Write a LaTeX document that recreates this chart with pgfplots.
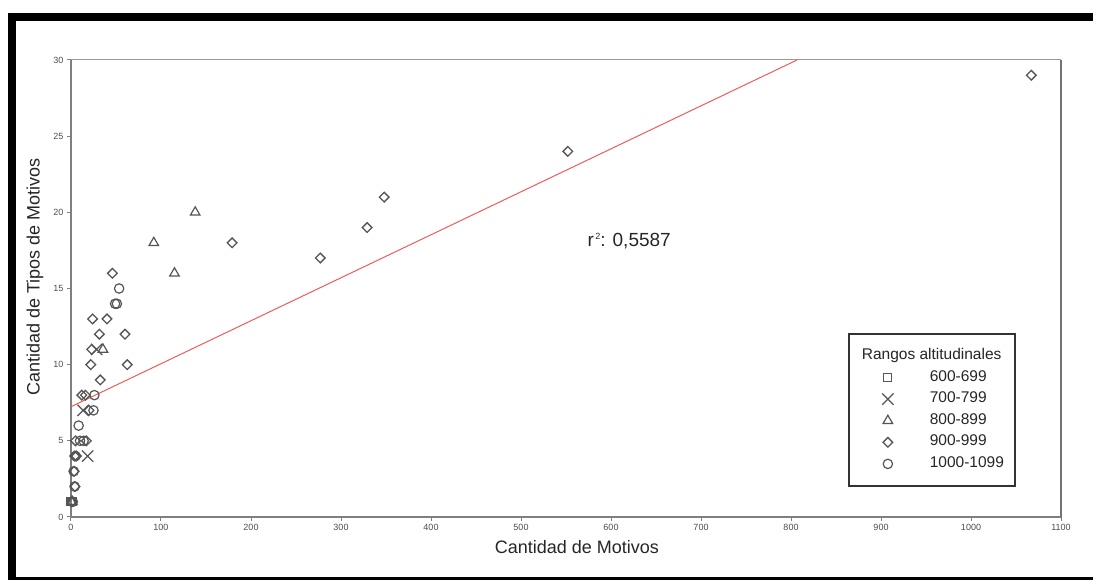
\documentclass[border=0pt]{standalone}
\usepackage{fontspec}
\setmainfont{Liberation Sans}
\usepackage{pgfplots}
\pgfplotsset{compat=1.18}
\definecolor{mk}{HTML}{555555}
\definecolor{fitred}{HTML}{F05A5A}
\definecolor{axgray}{HTML}{7F7F7F}

\begin{document}
\begin{tikzpicture}
\path[use as bounding box] (-71pt,-63pt) rectangle (1022pt,517pt);
\begin{axis}[
  at={(0pt,0pt)}, anchor=south west,
  scale only axis, width=990pt, height=457pt,
  xmin=0, xmax=1100, ymin=0, ymax=30,
  xtick distance=100, ytick distance=5,
  axis lines=left, axis line style={-, draw=axgray, line width=1.2pt},
  tick align=outside, major tick length=4pt,
  tick style={draw=axgray, line width=1pt},
  tick label style={font=\fontsize{9}{10}\selectfont, text=black!70},
  /pgf/number format/assume math mode=true,
  /pgf/number format/set thousands separator={},
  xlabel={Cantidad de Motivos}, ylabel={Cantidad de Tipos de Motivos},
  every axis x label/.style={at={(axis description cs:0.511,-0.0656)}, anchor=center,
    font=\fontsize{18}{20}\selectfont, text=black!85},
  every axis y label/.style={at={(axis description cs:-0.0364,0.525)}, rotate=90, anchor=center,
    font=\fontsize{18}{20}\selectfont, text=black!85},
  clip=false,
  legend style={at={(0.7848,0.4026)}, anchor=north west, draw=black!80, line width=1.8pt,
    fill=white, inner xsep=9pt, inner ysep=12.5pt, row sep=2.6pt, column sep=26pt,
    font=\fontsize{15.5}{17}\selectfont, text=black!85,
    nodes={inner sep=2pt, text height=11pt, text depth=4pt}, cells={anchor=west}},
  legend image code/.code={\path[draw=none] (0pt,0pt) -- (44pt,0pt);
    \path[#1, line width=1.2pt] plot coordinates {(30pt,0pt)};},
]
% regression line
\addplot[forget plot, fitred, line width=1pt] coordinates {(0,7.24) (806.7,30)};

\addlegendimage{empty legend}
\addlegendentry{\hspace{-68pt}Rangos altitudinales}

% 600-699
\addplot[only marks, mark=square, mark size=4pt, color=mk, mark options={line width=1.2pt}]
  coordinates {(0,1) (1,1) (2,1)};
\addlegendentry{600-699}
% 700-799
\addplot[only marks, mark=x, mark size=8pt, color=mk, mark options={line width=1.2pt}]
  coordinates {(13.5,7) (18.5,4) (28.5,11)};
\addlegendentry{700-799}
% 800-899
\addplot[only marks, mark=triangle, mark size=5.5pt, color=mk, mark options={line width=1.2pt}]
  coordinates {(0.5,1) (1.5,1) (35.5,11) (92,18) (115,16) (138,20)};
\addlegendentry{800-899}
% 900-999
\addplot[only marks, mark=square, mark size=3.4pt, color=mk, mark options={rotate=45, line width=1.3pt}]
  coordinates {
  (1067,29) (552,24) (348,21) (329,19) (277,17) (179,18) (46,16)
  (24,13) (40,13) (31.5,12) (60,12) (23,11) (22,10) (62.5,10) (32.5,9)
  (12,8) (16,8) (20,7) (5,5) (17,5) (4,4) (6,4) (3.5,3) (4.5,2) (1,1)};
\addlegendentry{900-999}
% 1000-1099
\addplot[only marks, mark=o, mark size=4.7pt, color=mk, mark options={line width=1.2pt}]
  coordinates {
  (53.5,15) (49,14) (51,14) (26,8) (25,7) (8.5,6) (10,5) (14,5)
  (5,4) (3,3) (4,2) (1,1) (2,1)};
\addlegendentry{1000-1099}

\node[anchor=west, font=\fontsize{19}{21}\selectfont, text=black!85] at (axis cs:570,18.12)
  {r\raisebox{0.7ex}{\fontsize{9}{9}\selectfont\,2}: 0,5587};

\draw[black!40, line width=1pt] (rel axis cs:0,1) -- (rel axis cs:1,1);
\draw[black!55, line width=1.2pt] (rel axis cs:1,1) -- (rel axis cs:1,0);
\end{axis}
% outer frame of the figure
\fill[black] (-63pt,504pt) rectangle (1022pt,496pt);
\fill[black] (-63pt,504pt) rectangle (-55pt,-63pt);
\fill[black] (-63pt,-60pt) rectangle (1022pt,-63pt);
\end{tikzpicture}
\end{document}
